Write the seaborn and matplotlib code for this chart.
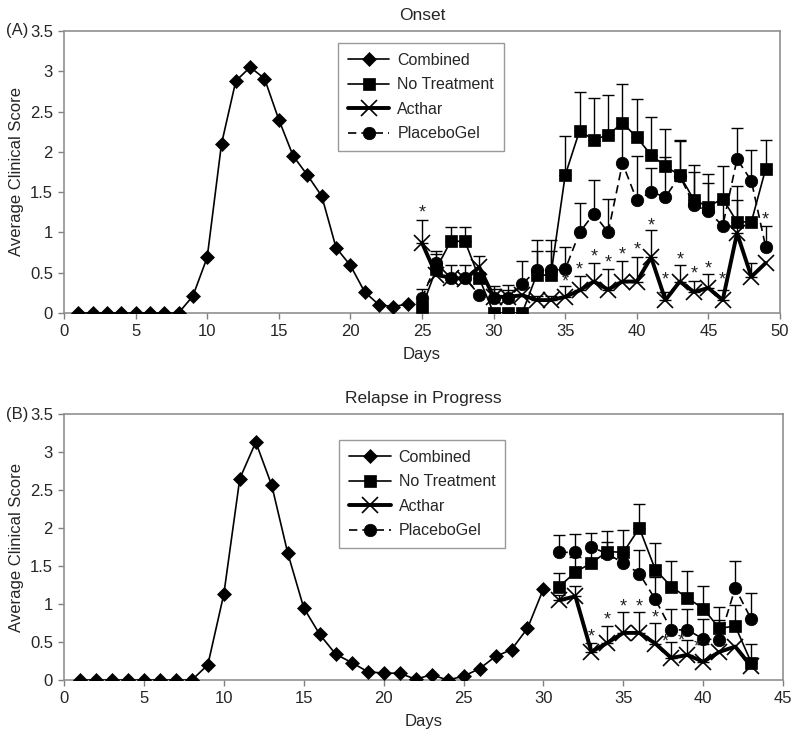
import numpy as np
import pandas as pd
import matplotlib
matplotlib.use("Agg")
import matplotlib.pyplot as plt
import seaborn as sns

# Panel A - Onset
dias_a_comb = list(range(1, 25))
comb_a = [0, 0, 0, 0, 0, 0, 0, 0, 0.21, 0.69, 2.10, 2.88, 3.05, 2.91, 2.40, 1.95,
          1.71, 1.45, 0.81, 0.59, 0.26, 0.10, 0.08, 0.11]

dias_a = list(range(25, 50))
notreat_a = [0.07, 0.55, 0.89, 0.89, 0.43, 0, 0, 0, 0.47, 0.47, 1.71, 2.26, 2.15,
             2.21, 2.36, 2.18, 1.96, 1.82, 1.71, 1.40, 1.32, 1.42, 1.13, 1.13, 1.79]
notreat_a_err = [0, 0.18, 0.18, 0.18, 0.28, 0, 0, 0, 0.30, 0.30, 0.49, 0.48, 0.52,
                 0.49, 0.48, 0.48, 0.47, 0.46, 0.44, 0.44, 0.40, 0.40, 0.45, 0, 0.36]
acthar_a = [0.87, 0.47, 0.44, 0.42, 0.57, 0.20, 0.20, 0.22, 0.16, 0.16, 0.20, 0.28,
            0.39, 0.29, 0.39, 0.39, 0.69, 0.16, 0.39, 0.26, 0.31, 0.16, 0.99, 0.45, 0.62]
acthar_a_err = [0.28, 0, 0, 0, 0, 0.10, 0.09, 0, 0.05, 0.05, 0.13, 0.18, 0.23,
                0.25, 0.26, 0.30, 0.34, 0.10, 0.21, 0.14, 0.17, 0.12, 0.41, 0.17, 0]
placebo_a = [0.18, 0.62, 0.44, 0.44, 0.22, 0.18, 0.18, 0.36, 0.53, 0.53, 0.54, 1.00,
             1.23, 1.00, 1.86, 1.40, 1.50, 1.44, 1.70, 1.34, 1.26, 1.08, 1.91, 1.64, 0.82]
placebo_a_err = [0.12, 0.15, 0.16, 0.16, 0, 0.16, 0.17, 0.28, 0.37, 0.37, 0.28, 0.37,
                 0.42, 0.42, 0.45, 0.55, 0.30, 0.50, 0.44, 0.41, 0.35, 0.30, 0.39, 0.38, 0.26]
estrellas_a_x = [25, 35, 36, 37, 38, 39, 40, 41, 42, 43, 44, 45, 46, 49]
estrellas_a_y = [1.28, 0.43, 0.57, 0.73, 0.66, 0.76, 0.82, 1.12, 0.45, 0.70, 0.52, 0.59, 0.45, 1.19]

# Panel B - Relapse in Progress
dias_b_comb = list(range(1, 31))
comb_b = [0, 0, 0, 0, 0, 0, 0, 0, 0.20, 1.13, 2.65, 3.13, 2.56, 1.67, 0.95, 0.60,
          0.34, 0.23, 0.11, 0.09, 0.09, 0.01, 0.07, 0.0, 0.05, 0.15, 0.31, 0.40, 0.68, 1.20]

dias_b = list(range(31, 44))
notreat_b = [1.23, 1.42, 1.54, 1.69, 1.68, 2.00, 1.45, 1.23, 1.08, 0.94, 0.68, 0.71, 0.23]
notreat_b_err = [0.18, 0.20, 0.20, 0.27, 0.29, 0.32, 0.35, 0.34, 0.35, 0.30, 0.28, 0.28, 0.24]
acthar_b = [1.05, 1.10, 0.37, 0.49, 0.62, 0.62, 0.48, 0.29, 0.33, 0.24, 0.37, 0.44, 0.18]
acthar_b_err = [0.07, 0.14, 0.12, 0.22, 0.27, 0.27, 0.27, 0.21, 0.20, 0.24, 0, 0, 0]
placebo_b = [1.68, 1.68, 1.75, 1.66, 1.54, 1.40, 1.06, 0.66, 0.66, 0.54, 0.53, 1.21, 0.80]
placebo_b_err = [0.23, 0.24, 0.19, 0.16, 0.12, 0.31, 0.30, 0.28, 0.27, 0.26, 0.26, 0.36, 0.35]
estrellas_b_x = [33, 34, 35, 36, 37, 37.6, 38.6, 39.6]
estrellas_b_y = [0.61, 0.83, 1.00, 1.00, 0.86, 0.54, 0.56, 0.47]

sns.set_style("white")
plt.rcParams['font.family'] = ['Liberation Sans', 'DejaVu Sans']

fig = plt.figure(figsize=(8, 7.39), dpi=100)
ax_a = fig.add_axes([0.08, 0.5765, 0.895, 0.3816])
ax_b = fig.add_axes([0.08, 0.0798, 0.899, 0.36])


def barras(ax, x, y, err):
    x = np.array(x)
    y = np.array(y)
    err = np.array(err)
    m = err > 0
    ax.errorbar(x[m], y[m], yerr=[np.zeros(m.sum()), err[m]], fmt='none',
                ecolor='black', elinewidth=1, capsize=4, capthick=1, zorder=1)


def panel(ax, dc, comb, d, nt, nt_e, ac, ac_e, pl, pl_e, sx, sy, xmax, titulo, leg_y):
    barras(ax, d, nt, nt_e)
    barras(ax, d, ac, ac_e)
    barras(ax, d, pl, pl_e)
    sns.lineplot(x=dc, y=comb, ax=ax, color='black', linewidth=1.2, marker='D',
                 markersize=7, markeredgecolor='black', markeredgewidth=0.5,
                 label='Combined', zorder=3)
    sns.lineplot(x=d, y=nt, ax=ax, color='black', linewidth=1.2, marker='s',
                 markersize=9, markeredgecolor='black', markeredgewidth=0.5,
                 label='No Treatment', zorder=3)
    sns.lineplot(x=d, y=ac, ax=ax, color='black', linewidth=2.8, marker='x',
                 markersize=11, markeredgecolor='black', markeredgewidth=1.2,
                 label='Acthar', zorder=4)
    sns.lineplot(x=d, y=pl, ax=ax, color='black', linewidth=1.2, linestyle=(0, (5, 3)),
                 marker='o', markersize=9, markeredgecolor='black', markeredgewidth=0.5,
                 label='PlaceboGel', zorder=3)
    # asteriscos de significancia
    for xs, ys in zip(sx, sy):
        ax.text(xs, ys - 0.04, '*', ha='center', va='center', fontsize=13, color='#222222')

    ax.set_xlim(0, xmax)
    ax.set_ylim(0, 3.5)
    ax.set_xticks(range(0, xmax + 1, 5))
    ax.set_yticks(np.arange(0, 3.51, 0.5))
    ax.set_yticklabels(['0', '0.5', '1', '1.5', '2', '2.5', '3', '3.5'])
    ax.tick_params(axis='both', labelsize=12, length=4, width=1, color='#808080',
                   direction='out', bottom=True, left=True, pad=4)
    for s in ax.spines.values():
        s.set_color('#909090')
        s.set_linewidth(1.2)
    ax.set_xlabel('Days', fontsize=12, labelpad=6)
    ax.set_ylabel('Average Clinical Score', fontsize=12, labelpad=4)
    ax.set_title(titulo, fontsize=12.5, pad=8)
    leg = ax.legend(loc='upper left', bbox_to_anchor=(0.383, leg_y), borderaxespad=0,
                    fontsize=11.5, handlelength=2.6, labelspacing=0.6, fancybox=False,
                    frameon=True, borderpad=0.6, handletextpad=0.5)
    leg.get_frame().set_edgecolor('#808080')
    leg.get_frame().set_linewidth(1)


panel(ax_a, dias_a_comb, comb_a, dias_a, notreat_a, notreat_a_err, acthar_a, acthar_a_err,
      placebo_a, placebo_a_err, estrellas_a_x, estrellas_a_y, 50, 'Onset', 0.957)
panel(ax_b, dias_b_comb, comb_b, dias_b, notreat_b, notreat_b_err, acthar_b, acthar_b_err,
      placebo_b, placebo_b_err, estrellas_b_x, estrellas_b_y, 45, 'Relapse in Progress', 0.902)

fig.text(0.008, 1 - 31 / 739, '(A)', fontsize=12, va='center')
fig.text(0.008, 1 - 414 / 739, '(B)', fontsize=12, va='center')

plt.savefig('out.png', dpi=100)
